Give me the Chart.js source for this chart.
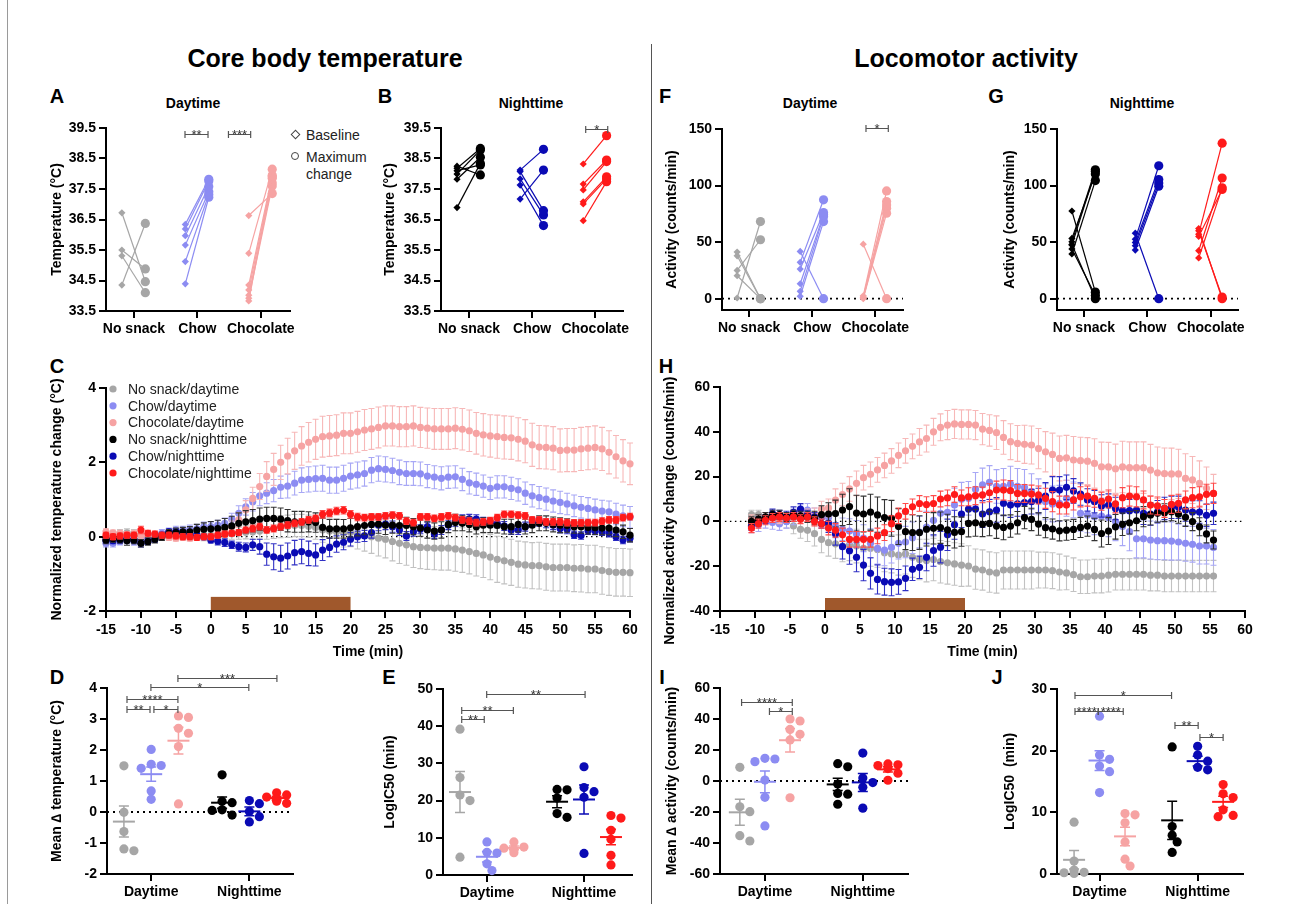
<!DOCTYPE html>
<html><head><meta charset="utf-8">
<script src="https://cdn.jsdelivr.net/npm/chart.js@4.4.1/dist/chart.umd.min.js"></script>
<style>
html,body{margin:0;padding:0;background:#fff;}
#fig{position:relative;width:1290px;height:904px;overflow:hidden;background:#fff;font-family:'Liberation Sans',Arial,Helvetica,sans-serif;color:#000;}
.t{position:absolute;white-space:nowrap;transform:translate(-50%,-50%);line-height:1;}
.big{font-size:25px;font-weight:bold;}
.let{font-size:20px;font-weight:bold;}
.sub{font-size:14px;font-weight:bold;}
.leg{position:absolute;white-space:nowrap;line-height:1;transform:translateY(-50%);font-size:14px;color:#222;}
canvas{position:absolute;}
</style></head><body><div id="fig"></div>
<script>
// ---------------- DATA ----------------
const catsTop = ['No snack', 'Chow', 'Chocolate'];
const catsPeriod = ['Daytime', 'Nighttime'];
const seriesNames = ['No snack/daytime','Chow/daytime','Chocolate/daytime','No snack/nighttime','Chow/nighttime','Chocolate/nighttime'];
const tempTicks = [33.5, 34.5, 35.5, 36.5, 37.5, 38.5, 39.5];
const actTicks = [0, 50, 100, 150];
const timeTicks = [-15,-10,-5,0,5,10,15,20,25,30,35,40,45,50,55,60];
const tempChangeTicks = [-2, 0, 2, 4];
const actChangeTicks = [-40, -20, 0, 20, 40, 60];
const meanTempTicks = [-2, -1, 0, 1, 2, 3, 4];
const ic50TempTicks = [0, 10, 20, 30, 40, 50];
const meanActTicks = [-60, -40, -20, 0, 20, 40, 60];
const ic50ActTicks = [0, 10, 20, 30];
const snackWindow = [0, 20];

// A: daytime temperature (baseline / maximum change), per group
const tempDayBase = [[36.72, 35.5, 35.31, 34.35], [36.34, 36.19, 35.97, 35.66, 35.12, 34.39], [36.63, 35.39, 34.35, 34.19, 34.02, 33.92, 33.83]];
const tempDayMax  = [[34.46, 34.88, 34.1, 36.37], [37.82, 37.76, 37.58, 37.41, 37.32, 37.23], [37.35, 38.15, 37.95, 37.85, 37.7, 37.6, 37.9]];
// B: nighttime temperature
const tempNightBase = [[38.25, 38.18, 37.99, 37.82, 36.89, 38.1], [38.12, 38.07, 37.83, 37.63, 37.17], [38.32, 37.66, 37.47, 37.08, 37.01, 36.46]];
const tempNightMax  = [[37.96, 38.83, 38.78, 38.54, 38.34, 38.29], [38.8, 36.79, 36.65, 36.3, 38.12], [39.25, 38.45, 38.4, 37.9, 37.83, 37.74]];
// F: daytime activity
const actDayBase = [[0.6, 25.0, 41.2, 37.9, 20.3], [32.1, 26.2, 13.2, 6.5, 2.1, 41.8], [2.5, 1.5, 1.0, 0.5, 0.0, 48.2]];
const actDayMax  = [[68.2, 52.1, 0, 0, 0], [87.4, 76.2, 74.1, 72.6, 68.2, 0], [95.3, 85.9, 82.9, 80.0, 75.6, 0]];
// G: nighttime activity
const actNightBase = [[77.5, 53.3, 50.3, 47.4, 44.0, 39.5, 48.0], [57.9, 52.6, 49.7, 46.8, 43.0], [36.0, 42.4, 57.0, 62.0, 60.0, 55.0]];
const actNightMax  = [[5.8, 110.2, 114.0, 112.5, 2.9, 104.4, 0], [0, 117.5, 105.3, 102.3, 99.4], [98.0, 106.7, 137.5, 0, 1.5, 96.5]];

// C: normalized temperature change (mean, SEM)
const timesC = [-15,-14,-13,-12,-11,-10,-9,-8,-7,-6,-5,-4,-3,-2,-1,0,1,2,3,4,5,6,7,8,9,10,11,12,13,14,15,16,17,18,19,20,21,22,23,24,25,26,27,28,29,30,31,32,33,34,35,36,37,38,39,40,41,42,43,44,45,46,47,48,49,50,51,52,53,54,55,56,57,58,59,60];
const noSnackDayC = [-0.13,-0.05,0.09,0.1,0.09,0.0,-0.04,0.0,0.0,0.04,0.09,0.09,0.0,0.04,0.0, 0.04,0.05,0.07,0.08,0.1,0.12,0.13,0.15,0.18,0.22,0.27,0.28,0.3,0.3,0.28,0.25, 0.18,0.15,0.13,0.09,0.11,0.07,0.03,0.0,-0.04,-0.07,-0.13,-0.18,-0.22,-0.27,-0.29,-0.30,-0.31,-0.31,-0.31,-0.33,-0.36,-0.40,-0.45,-0.49,-0.55,-0.61,-0.65,-0.69,-0.74,-0.76,-0.78,-0.78,-0.81,-0.83,-0.83,-0.83,-0.85,-0.85,-0.87,-0.87,-0.91,-0.94,-0.96,-0.96,-0.97];
const chowDayC = [-0.18,-0.18,-0.13,-0.09,-0.13,-0.09,-0.04,0.04,0.09,0.13,0.18,0.18,0.2,0.22,0.27, 0.27,0.31,0.36,0.47,0.63,0.8,0.94,1.1,1.17,1.24,1.33,1.36,1.44,1.52,1.54,1.56, 1.57,1.52,1.52,1.57,1.63,1.66,1.70,1.79,1.83,1.81,1.78,1.73,1.70,1.70,1.69,1.63,1.60,1.57,1.60,1.61,1.54,1.45,1.41,1.36,1.30,1.34,1.34,1.30,1.26,1.17,1.10,1.05,1.01,0.96,0.92,0.88,0.83,0.79,0.76,0.72,0.69,0.67,0.61,0.56,0.52];
const chocDayC = [0.13,0.1,0.09,0.06,0.07,0.04,0.02,0.0,0.0,-0.02,-0.04,-0.02,-0.04,0.0,0.0, -0.02,0.04,0.13,0.27,0.45,0.72,1.03,1.35,1.62,1.81,2.0,2.17,2.31,2.44,2.54,2.62, 2.69,2.71,2.73,2.78,2.78,2.82,2.87,2.90,2.94,2.98,2.98,2.96,2.96,2.98,2.94,2.92,2.90,2.90,2.90,2.92,2.89,2.85,2.78,2.74,2.71,2.69,2.67,2.66,2.62,2.57,2.47,2.41,2.40,2.38,2.32,2.33,2.33,2.36,2.38,2.40,2.36,2.27,2.15,2.04,1.96];
const noSnackNightC = [-0.09,-0.05,-0.07,-0.11,-0.09,-0.18,-0.13,-0.07,0.0,0.09,0.11,0.13,0.13,0.18,0.2, 0.21,0.22,0.25,0.29,0.36,0.4,0.43,0.47,0.49,0.49,0.47,0.43,0.4,0.4,0.4,0.38, 0.25,0.21,0.21,0.21,0.24,0.27,0.30,0.33,0.34,0.31,0.31,0.30,0.30,0.27,0.23,0.18,0.15,0.18,0.33,0.38,0.36,0.33,0.27,0.31,0.31,0.30,0.27,0.27,0.33,0.27,0.31,0.36,0.36,0.33,0.31,0.30,0.27,0.27,0.25,0.24,0.23,0.23,0.18,0.13,0.04];
const chowNightC = [-0.09,-0.11,-0.09,-0.04,-0.09,-0.18,-0.13,-0.07,0.04,0.13,0.13,0.09,0.07,0.04,0.0, -0.09,-0.12,-0.16,-0.22,-0.27,-0.29,-0.22,-0.27,-0.47,-0.54,-0.58,-0.52,-0.43,-0.40,-0.45,-0.49, -0.36,-0.29,-0.20,-0.15,-0.07,0.0,0.02,0.11,0.31,0.34,0.27,0.18,0.02,0.13,0.2,0.27,0.07,0.18,0.31,0.40,0.47,0.48,0.47,0.40,0.38,0.36,0.29,0.18,0.18,0.27,0.38,0.40,0.36,0.31,0.22,0.20,0.05,0.03,0.16,0.15,0.13,0.09,0.0,-0.09,-0.04];
const chocNightC = [0.04,0.0,0.02,0.04,0.04,0.18,0.09,0.07,0.04,0.04,0.02,0.0,0.0,-0.02,0.0, 0.0,0.04,0.07,0.09,0.11,0.18,0.22,0.27,0.18,0.22,0.27,0.31,0.36,0.4,0.45,0.49, 0.6,0.64,0.69,0.71,0.6,0.53,0.51,0.53,0.53,0.56,0.58,0.56,0.42,0.38,0.53,0.53,0.49,0.53,0.56,0.51,0.45,0.42,0.38,0.40,0.43,0.51,0.60,0.60,0.58,0.56,0.45,0.45,0.40,0.40,0.40,0.38,0.37,0.37,0.38,0.38,0.42,0.45,0.45,0.51,0.54];
const semNoSnackDayC = [0.12,0.1,0.1,0.11,0.1,0.1,0.09,0.1,0.08,0.08,0.09,0.1,0.1,0.1,0.11, 0.12,0.13,0.14,0.15,0.17,0.18,0.2,0.22,0.25,0.27,0.3,0.3,0.3,0.3,0.3,0.32, 0.33,0.35,0.36,0.37,0.38,0.4,0.42,0.45,0.48,0.5,0.52,0.54,0.55,0.56,0.57,0.58,0.58,0.59,0.59,0.6,0.6,0.6,0.61,0.61,0.61,0.62,0.62,0.62,0.62,0.62,0.62,0.63,0.63,0.63,0.63,0.63,0.63,0.64,0.64,0.64,0.64,0.64,0.64,0.64,0.64];
const semChowDayC = [0.1,0.1,0.09,0.1,0.1,0.08,0.08,0.09,0.1,0.1,0.1,0.1,0.11,0.11,0.12, 0.12,0.13,0.14,0.16,0.2,0.22,0.25,0.27,0.28,0.3,0.3,0.32,0.32,0.33,0.34,0.34, 0.35,0.35,0.35,0.35,0.35,0.35,0.34,0.34,0.34,0.34,0.33,0.33,0.32,0.32,0.32,0.31,0.31,0.31,0.3,0.3,0.3,0.3,0.3,0.3,0.3,0.3,0.3,0.3,0.3,0.3,0.3,0.3,0.3,0.3,0.3,0.29,0.29,0.29,0.29,0.29,0.29,0.29,0.29,0.29,0.29];
const semChocDayC = [0.08,0.08,0.08,0.08,0.1,0.1,0.08,0.08,0.08,0.08,0.08,0.08,0.08,0.08,0.08, 0.08,0.1,0.12,0.15,0.2,0.25,0.3,0.35,0.4,0.43,0.46,0.48,0.5,0.52,0.53,0.54, 0.55,0.55,0.55,0.55,0.55,0.55,0.55,0.55,0.55,0.54,0.54,0.54,0.54,0.54,0.54,0.54,0.55,0.55,0.55,0.55,0.56,0.56,0.56,0.57,0.57,0.58,0.58,0.58,0.58,0.58,0.58,0.58,0.58,0.58,0.58,0.58,0.58,0.58,0.58,0.58,0.58,0.58,0.57,0.57,0.56];
const semNoSnackNightC = [0.1,0.1,0.1,0.12,0.1,0.1,0.1,0.1,0.1,0.1,0.12,0.12,0.14,0.15,0.17, 0.2,0.22,0.24,0.26,0.28,0.3,0.3,0.3,0.3,0.3,0.3,0.3,0.28,0.28,0.27,0.26, 0.25,0.25,0.25,0.25,0.25,0.25,0.25,0.25,0.25,0.25,0.22,0.22,0.22,0.22,0.22,0.22,0.22,0.22,0.22,0.22,0.2,0.2,0.2,0.2,0.2,0.2,0.2,0.2,0.2,0.2,0.2,0.2,0.2,0.2,0.2,0.18,0.18,0.18,0.18,0.18,0.18,0.18,0.18,0.18,0.18];
const semChowNightC = [0.08,0.08,0.08,0.08,0.08,0.1,0.08,0.08,0.08,0.08,0.08,0.08,0.08,0.08,0.08, 0.08,0.1,0.1,0.1,0.12,0.12,0.15,0.2,0.3,0.35,0.35,0.35,0.33,0.33,0.33,0.3, 0.28,0.25,0.22,0.2,0.18,0.15,0.15,0.15,0.15,0.15,0.15,0.15,0.12,0.12,0.12,0.12,0.12,0.12,0.12,0.12,0.12,0.12,0.12,0.12,0.12,0.12,0.12,0.12,0.12,0.12,0.12,0.12,0.12,0.12,0.12,0.12,0.1,0.1,0.1,0.1,0.1,0.1,0.1,0.1,0.1];
const semChocNightC = [0.08,0.08,0.08,0.08,0.08,0.1,0.08,0.08,0.08,0.08,0.08,0.08,0.08,0.08,0.08, 0.08,0.08,0.08,0.08,0.08,0.08,0.09,0.09,0.09,0.09,0.09,0.09,0.09,0.09,0.09,0.09, 0.1,0.1,0.1,0.1,0.1,0.1,0.09,0.09,0.09,0.09,0.09,0.09,0.09,0.09,0.09,0.09,0.09,0.09,0.09,0.09,0.09,0.09,0.09,0.09,0.09,0.09,0.09,0.09,0.09,0.09,0.09,0.09,0.09,0.09,0.09,0.09,0.09,0.09,0.09,0.09,0.09,0.09,0.09,0.09,0.09];

// H: normalized activity change (mean, SEM)
const timesH = [-10.5,-9.5,-8.5,-7.5,-6.5,-5.5,-4.5,-3.5,-2.5,-1.5,-0.5,0.5,1.5,2.5,3.5,4.5,5.5,6.5,7.5,8.5,9.5,10.5,11.5,12.5,13.5,14.5,15.5,16.5,17.5,18.5,19.5,20.5,21.5,22.5,23.5,24.5,25.5,26.5,27.5,28.5,29.5,30.5,31.5,32.5,33.5,34.5,35.5,36.5,37.5,38.5,39.5,40.5,41.5,42.5,43.5,44.5,45.5,46.5,47.5,48.5,49.5,50.5,51.5,52.5,53.5,54.5,55.5];
const noSnackDayH = [3,3,2,1.5,1,0,-2,-3.5,-4,-5.5,-8, -9.5,-10,-11,-10.5,-11,-12,-12,-12.5,-14,-14.5,-15,-14.5,-16,-17,-17.5,-17,-18,-18.5,-19,-19.5, -19.9,-21.3,-21.7,-22.6,-23.0,-21.7,-21.7,-21.7,-21.7,-21.7,-21.7,-21.7,-22.0,-22.6,-23.0,-23.8,-24.7,-24.7,-24.4,-24.4,-24.0,-23.6,-23.6,-23.6,-23.6,-23.6,-24.0,-24.0,-24.4,-24.4,-24.4,-24.4,-24.4,-24.4,-24.4,-24.4];
const chowDayH = [-2,-1.5,0,-0.5,-1,0,2,4,5,3,2, 1.7,-2.3,-3.5,-4.3,-5.6,-7.5,-9.8,-12,-12.8,-11.6,-9.8,-9.2,-7.3,-4.8,-2.5,0.5,3.6,4,7.3,9.9, 10.3,14.3,16.3,17.4,15.6,15.6,16.6,15.6,15.2,13.3,11.0,8.8,7.8,8.1,10.3,9.6,3.6,2.9,2.1,2.4,1.7,-0.1,-2.3,-4.6,-7.8,-7.8,-8.3,-8.6,-8.6,-8.8,-9.2,-9.8,-10.2,-11.0,-11.0,-11.6];
const chocDayH = [1,1,2,2,1,2,3,3,2.5,3,5.5, 6,9.5,12,14.5,17,19.5,21,23,25,27,29.5,31.5,33.5,35.5,37,40,42,43,43.5,43.3, 43.3,43.0,41.2,40.6,39.6,37.5,35.6,34.8,34.4,34.1,32.5,31.1,29.9,28.1,28.4,27.4,27.1,26.9,25.9,24.4,24.3,23.5,24.3,24.0,24.0,24.0,22.9,21.7,21.3,21.2,21.2,19.2,18.5,17.0,14.8,12.5];
const noSnackNightH = [0,1,2,3,3,2,3,2.5,2,1.5,3, 3.3,3.5,5.1,6.6,3.7,3.3,4.1,2.9,1.7,1.4,-2.3,-4.6,-5.0,-5.0,-3.5,-3.1,-2.8,-3.8,-4.9,-4.6, -0.9,-0.6,-1.3,-0.9,-2.1,-2.7,-2.1,-0.6,1.7,0.9,-1.2,-2.8,-3.4,-4.2,-3.9,-3.6,-2.7,-2.1,-3.6,-5.4,-4.3,-2.4,-1.3,-0.6,0.3,2.1,2.9,3.6,3.9,4.3,3.2,1.8,-0.1,-2.4,-5.6,-8.3];
const chowNightH = [-2,0,1,3.5,3,2.5,4,5.5,3,2,-1, -0.9,-5.6,-11.3,-13.1,-16,-19.5,-23.2,-25.9,-26.9,-27.2,-27,-25.4,-21.4,-20.5,-16,-13,-11.5,-6,-1.5,3.3, 5.5,5.5,3.3,4.3,5.1,8.1,7.3,7.8,8.4,8.8,9.3,11.3,14.0,14.0,15.2,13.6,12.2,9.6,8.8,6.9,7.3,5.8,4.8,4.8,5.1,3.6,3.3,4.3,5.8,6.3,6.3,5.1,4.2,4.2,2.7,3.6];
const chocNightH = [-3,-1,0.5,1.5,2,1.5,2,1,2,0,-1, -3,-4,-6,-8,-8,-8,-8,-6.5,-5,-1,2.5,4.5,6.5,8,7.5,8,10,10.5,12,10.5, 11.0,11.5,11.8,12.8,14.0,14.0,13.7,12.5,12.5,12.2,11.8,10.3,8.8,7.3,7.3,9.6,11.0,11.3,10.3,9.0,10.0,7.8,10.6,11.3,11.0,9.6,7.3,6.9,5.8,7.6,8.1,9.6,10.6,11.0,12.1,12.5];
const semNoSnackDayH = [2,2,2,2,2.5,3,3.5,4,5,5.5,6, 6,6.5,7,7,7.5,7.5,8,8,8.5,8.5,9,9,9,9,9.5,9.5,9.5,9.5,9.5,9.5, 9,9,9,9,9,8.5,8.5,8.5,8.5,8.5,8,8,8,8,7.5,7.5,7.5,7.5,7.5,7.5,7.5,7,7,7,7,7,7,7,7,7,7,7,7,7,7,7];
const semChowDayH = [3,3,3,3,3,3,3.5,3.5,3,3,3.5, 4,5,5,5.5,6,6,6.5,7,7,7,7,7,7,7,7,7,7,7.5,7.5,7.5, 7.5,7.5,7.5,7.5,7.5,8,8,8,8,8,8,8,8,8,8,8,8,8,8,8,8.5,8.5,8.5,8.5,8.5,8.5,8.5,8.5,8.5,8.5,8,8,8,8,8,8];
const semChocDayH = [2,2,2,2,2,2,2,2.5,3,3,3.5, 4,5,5,5.5,5.5,5.5,5.5,5.5,5.5,5.5,5.5,5.5,5.5,6,6,6,6,6.5,6.5,6.5, 6.5,6.5,7,7,7.5,7.5,8,8,8.5,8.5,9,9,9.5,10,10,10.5,10.5,10.5,11,11,11,11,11.5,11.5,11.5,11.5,11.5,11.5,11.5,11.5,11,11,10.5,10,9.5,8.5];
const semNoSnackNightH = [2,2,2,2,2,2,2,2,2.5,3,4, 5,6,7,8,8,8,8,8,8,8,8,8,8,7.5,7.5,7,7,7,7,6.5, 6,6,5.5,5.5,5.5,5.5,5,5,5,5,5,4.5,4.5,4.5,4.5,4.5,4.5,4.5,5,6,6,5.5,5,5,4.5,4.5,4.5,4,4,4,4,4,4,4,4,4];
const semChowNightH = [2,2,2,2,2,2,2.5,2.5,2,2,2, 4,5,5.5,6,6.5,7,7,6.5,6,6,5.5,5.5,5,5,6,7,7,7,6.5,6, 6,6,6,5.5,5.5,5.5,5.5,5.5,5.5,5.5,5.5,6,6,6,5.5,5.5,5,5,5,5,5,5,5,5,5,5,5,5,5,5,5,5,5,5,5,5];
const semChocNightH = [2,2,2,2,2,2,2,2,2,2,2, 3,3,3,3.5,3.5,3.5,3.5,3.5,3.5,3.5,3.5,3.5,3.5,3.5,3.5,3.5,3.5,3.5,3.5,3.5, 4,4,3.5,4,4,4.5,4.5,4,4,4,4,4.5,4.5,4,4,4.5,4.5,4.5,4,4,4,4,4.5,4.5,4.5,4,4,4,4,4,4,4,4.5,4.5,4.5,4.5];

// D: mean delta temperature; E: temperature LogIC50; I: mean delta activity; J: activity LogIC50
// group order: No snack/day, Chow/day, Chocolate/day, No snack/night, Chow/night, Chocolate/night
const meanTempVals = [[1.49, -0.01, -0.63, -1.19, -1.25], [2.02, 1.54, 1.5, 1.41, 0.68, 0.41], [3.1, 3.05, 2.7, 2.54, 2.11, 0.26], [1.2, 0.35, 0.3, 0.07, 0.05, -0.1], [0.37, 0.27, 0.02, -0.15, -0.32], [0.62, 0.55, 0.48, 0.42, 0.35, 0.28]];
const meanTempMean = [-0.31, 1.22, 2.3, 0.3, 0.02, 0.45];
const meanTempSem = [0.5, 0.23, 0.43, 0.18, 0.14, 0.06];
const ic50TempVals = [[39.2, 26.2, 21.5, 20.0, 4.8], [8.9, 6.1, 5.9, 3.0, 1.2], [8.9, 7.5, 7.2, 6.8, 6.0], [23.0, 22.9, 20.7, 16.5, 15.5], [29.1, 23.5, 22.4, 20.9, 5.8], [16.0, 15.3, 12.0, 9.6, 5.3, 2.7]];
const ic50TempMean = [22.3, 4.9, 7.3, 19.7, 20.3, 10.2];
const ic50TempSem = [5.5, 1.4, 0.5, 1.6, 3.9, 2.1];
const meanActVals = [[8.8, -16.6, -19.8, -35.3, -38.7], [14.6, 14.2, 12.5, 0.6, -10.5, -29.0], [40.0, 38.7, 33.3, 30.1, 26.5, -10.8], [11.2, 9.2, -2.0, -8.0, -8.5, -15.0], [18.0, 2.0, -1.0, -4.0, -17.5], [11.0, 10.5, 10.0, 8.0, 5.0, 0.5]];
const meanActMean = [-20.2, -0.5, 26.3, -2.2, -0.9, 7.5];
const meanActSem = [8.4, 7.0, 7.6, 4.0, 5.8, 1.7];
const ic50ActVals = [[8.4, 2.1, 0.65, 0.27, 0.2, 0.1], [25.6, 19.3, 18.6, 17.5, 16.6, 13.2], [9.8, 9.6, 8.3, 5.2, 2.4, 1.3], [20.6, 7.7, 6.3, 5.2, 3.5], [20.7, 19.3, 18.3, 17.3, 16.9], [14.5, 13.0, 12.4, 10.4, 9.5, 9.3]];
const ic50ActMean = [2.3, 18.4, 6.1, 8.7, 18.3, 11.7];
const ic50ActSem = [1.5, 1.6, 1.5, 3.1, 0.8, 0.9];

// significance brackets [from, to, height, label]
const sigA = [[1.805, 2.168, 39.29, '**'], [2.49, 2.84, 39.29, '***']];
const sigB = [[2.849, 3.198, 39.48, '*']];
const sigF = [[2.853, 3.207, 151, '*']];
const sigD = [[1.113, 1.957, 3.32, '**'], [2.1, 2.98, 3.32, '*'], [1.113, 2.98, 3.65, '****'], [1.99, 5.58, 4.03, '*'], [2.98, 6.61, 4.32, '***']];
const sigE = [[1.064, 1.90, 41.9, '**'], [1.064, 2.98, 44.4, '**'], [1.99, 5.64, 48.7, '**']];
const sigI = [[1.07, 3.09, 50.8, '****'], [2.18, 3.09, 45.2, '*']];
const sigJ = [[1.036, 4.826, 29.1, '*'], [1.036, 1.95, 26.5, '****'], [1.95, 2.93, 26.5, '****'], [4.96, 5.87, 24.1, '**'], [5.94, 6.85, 22.2, '*']];

// ---------------- STYLE / LAYOUT ----------------
const FONT = "'Liberation Sans', Arial, Helvetica, sans-serif";
const COL = ['#a6a6a6', '#8c8cf2', '#f6a3a3', '#000000', '#0a0ab4', '#ff1a1a'];
const ERRCOL = ['#c2c2c2', '#a8a8f5', '#f7b8b8', '#333333', '#3030c4', '#ff4a4a'];
const DRAW_ORDER = [6, 5, 4, 2, 3, 1];
const fig = document.getElementById('fig');

function text(str, x, y, cls) {
  const d = document.createElement('div'); d.className = 't ' + cls; d.textContent = str;
  d.style.left = x + 'px'; d.style.top = y + 'px'; fig.appendChild(d); return d;
}
function line(x, y, w, h, c) {
  const d = document.createElement('div'); d.style.cssText = `position:absolute;left:${x}px;top:${y}px;width:${w}px;height:${h}px;background:${c}`; fig.appendChild(d);
}

function axis(o) {
  return {
    type: 'linear', position: o.position, min: o.min, max: o.max, bounds: 'data',
    border: {display: true, color: '#000', width: 2},
    grid: {display: true, drawOnChartArea: false, drawTicks: true, tickLength: 7, tickWidth: 2, tickColor: '#000', color: '#000', lineWidth: 2},
    ticks: {color: '#000', padding: o.pad == null ? 3 : o.pad, autoSkip: false, maxRotation: 0, minRotation: 0,
      font: {family: FONT, size: 14, weight: 'bold'}, callback: o.cb || (v => String(v))},
    title: o.title ? {display: true, text: o.title, color: '#000', padding: 0, font: {family: FONT, size: 14, weight: 'bold'}} : {display: false},
    afterBuildTicks: s => { s.ticks = o.ticks.map(v => ({value: v})); }
  };
}

function annot(spec) {
  return {
    id: 'annot',
    beforeDatasetsDraw(chart) {
      const {ctx, scales: {x, y}} = chart;
      ctx.save();
      if (spec.bar) {
        const px0 = x.getPixelForValue(spec.bar[0]), px1 = x.getPixelForValue(spec.bar[1]);
        const py0 = y.getPixelForValue(spec.bar[2]) - 1, py1 = y.getPixelForValue(spec.bar[3]);
        ctx.fillStyle = '#a0582c'; ctx.fillRect(px0, py1, px1 - px0, py0 - py1);
      }
      if (spec.zero) {
        const py = y.getPixelForValue(0);
        ctx.strokeStyle = '#000'; ctx.lineWidth = spec.zeroW || 1.8; ctx.setLineDash(spec.dash || [2, 4]);
        ctx.beginPath(); ctx.moveTo(x.getPixelForValue(spec.zero[0]), py); ctx.lineTo(x.getPixelForValue(spec.zero[1]), py); ctx.stroke();
      }
      ctx.restore();
    },
    beforeDatasetDraw(chart, args) {
      const ds = chart.data.datasets[args.index];
      if (!ds.sem) return;
      const {ctx, scales: {x, y}} = chart;
      ctx.save(); ctx.strokeStyle = ds.semColor; ctx.lineWidth = 1.1;
      ds.data.forEach((p, i) => {
        const e = ds.sem[i], px = x.getPixelForValue(p.x);
        const y1 = y.getPixelForValue(p.y + e), y2 = y.getPixelForValue(p.y - e);
        ctx.beginPath(); ctx.moveTo(px, y1); ctx.lineTo(px, y2);
        ctx.moveTo(px - 3, y1); ctx.lineTo(px + 3, y1); ctx.moveTo(px - 3, y2); ctx.lineTo(px + 3, y2); ctx.stroke();
      });
      ctx.restore();
    },
    afterDatasetsDraw(chart) {
      if (!spec.summary) return;
      const {ctx, scales: {x, y}} = chart;
      ctx.save();
      spec.summary.forEach(sm => {
        const px = x.getPixelForValue(sm.x), pm = y.getPixelForValue(sm.m);
        const p1 = y.getPixelForValue(sm.m + sm.s), p2 = y.getPixelForValue(sm.m - sm.s);
        ctx.strokeStyle = sm.c; ctx.lineWidth = 2;
        ctx.beginPath(); ctx.moveTo(px - 11, pm); ctx.lineTo(px + 11, pm); ctx.stroke();
        ctx.lineWidth = 1.5;
        ctx.beginPath(); ctx.moveTo(px, p1); ctx.lineTo(px, p2);
        ctx.moveTo(px - 5, p1); ctx.lineTo(px + 5, p1); ctx.moveTo(px - 5, p2); ctx.lineTo(px + 5, p2); ctx.stroke();
      });
      ctx.restore();
    },
    afterDraw(chart) {
      const {ctx, chartArea: ca, scales: {x, y}} = chart;
      ctx.save();
      (spec.brackets || []).forEach(([a, b, h, lab]) => {
        const px0 = x.getPixelForValue(a), px1 = x.getPixelForValue(b), py = Math.round(y.getPixelForValue(h)) + 0.5;
        ctx.strokeStyle = '#555'; ctx.lineWidth = 1.2;
        ctx.beginPath(); ctx.moveTo(px0, py); ctx.lineTo(px1, py);
        ctx.moveTo(px0, py - 3.5); ctx.lineTo(px0, py + 3.5); ctx.moveTo(px1, py - 3.5); ctx.lineTo(px1, py + 3.5); ctx.stroke();
        ctx.fillStyle = '#333'; ctx.font = '13px ' + FONT; ctx.textAlign = 'center'; ctx.textBaseline = 'alphabetic';
        ctx.fillText(lab, (px0 + px1) / 2, py + 4.5);
      });
      if (spec.legend) {
        ctx.font = '14px ' + FONT; ctx.textAlign = 'left'; ctx.textBaseline = 'middle';
        spec.legend.forEach((nm, i) => {
          const cy = ca.top + 1 + i * 16.8;
          ctx.fillStyle = COL[i]; ctx.beginPath(); ctx.arc(ca.left + 7, cy, 3.6, 0, Math.PI * 2); ctx.fill();
          ctx.fillStyle = '#222'; ctx.fillText(nm, ca.left + 22, cy + 1);
        });
      }
      ctx.restore();
    }
  };
}

function makeChart(box, plot, xAxis, yAxis, datasets, spec) {
  const cv = document.createElement('canvas');
  cv.width = box.w; cv.height = box.h;
  cv.style.left = box.l + 'px'; cv.style.top = box.t + 'px'; cv.style.width = box.w + 'px'; cv.style.height = box.h + 'px';
  fig.appendChild(cv);
  const yW = plot.l - box.l, xH = box.t + box.h - plot.b;
  xAxis.afterFit = s => { s.height = xH; s.paddingLeft = 0; s.paddingRight = 0; s.paddingTop = 0; s.paddingBottom = 0; };
  yAxis.afterFit = s => { s.width = yW; s.paddingTop = 0; s.paddingBottom = 0; s.paddingLeft = 0; s.paddingRight = 0; };
  return new Chart(cv, {
    type: 'scatter',
    data: {datasets},
    options: {
      responsive: false, maintainAspectRatio: false, animation: false, devicePixelRatio: 1, events: [],
      layout: {autoPadding: false, padding: {left: 0, top: plot.t - box.t, right: box.l + box.w - plot.r, bottom: 0}},
      plugins: {legend: {display: false}, tooltip: {enabled: false}},
      scales: {x: xAxis, y: yAxis}
    },
    plugins: [annot(spec)]
  });
}

// paired baseline/max datasets
const OFF_B = -0.19, OFF_M = 0.18;
function pairSets(base, max, cols) {
  const sets = [];
  base.forEach((grp, g) => grp.forEach((b, i) => sets.push({
    data: [{x: g + 1 + OFF_B, y: b}, {x: g + 1 + OFF_M, y: max[g][i]}],
    showLine: true, borderColor: cols[g], borderWidth: 1.2, backgroundColor: cols[g],
    pointBackgroundColor: cols[g], pointBorderColor: cols[g], pointBorderWidth: 0,
    pointStyle: ['rectRot', 'circle'], pointRadius: [3.6, 4.6], clip: false
  })));
  return sets;
}
function catAxis(min, max) {
  return axis({position: 'bottom', min, max, ticks: [1, 2, 3], cb: v => catsTop[Math.round(v) - 1]});
}

// time series datasets
function timeSets(times, series, sems) {
  return series.map((vals, k) => ({
    label: seriesNames[k], data: vals.map((v, i) => ({x: times[i], y: v})),
    sem: sems[k], semColor: ERRCOL[k], backgroundColor: COL[k], pointBackgroundColor: COL[k],
    pointBorderWidth: 0, pointRadius: 3.6, order: DRAW_ORDER[k], clip: false
  }));
}

// dot plot datasets (simple beeswarm spread in pixel space)
function swarm(vals, gx, kx, ky) {
  const placed = [], r = 4.6;
  return vals.map(v => {
    const py = v * ky;
    for (const c of [0, 1, -1, 2, -2, 3, -3]) {
      const px = c * 5;
      if (placed.every(p => Math.hypot(p[0] - px, p[1] - py) >= 2 * r * 0.88)) { placed.push([px, py]); return {x: gx + px / kx, y: v}; }
    }
    placed.push([0, py]); return {x: gx, y: v};
  });
}
function dotSets(vals, pos, kx, ky) {
  return vals.map((g, k) => ({
    data: swarm(g, pos[k], kx, ky), backgroundColor: COL[k], pointBackgroundColor: COL[k],
    pointBorderWidth: 0, pointRadius: 4.6, clip: false
  }));
}
function summary(pos, mean, sem) { return pos.map((p, k) => ({x: p, m: mean[k], s: sem[k], c: COL[k]})); }

// ---------------- FIGURE TEXT ----------------
line(7, 0, 1, 904, '#9a9a9a');
line(651, 44, 1, 860, '#555');
text('Core body temperature', 325, 58, 'big');
text('Locomotor activity', 966, 58, 'big');
[['A', 57, 96], ['B', 385, 96], ['F', 665, 96], ['G', 996, 96], ['C', 57, 366], ['H', 666, 366], ['D', 57, 677], ['E', 389, 677], ['I', 662, 677], ['J', 997, 677]]
  .forEach(([s, x, y]) => text(s, x, y, 'let'));
text('Daytime', 193, 103, 'sub'); text('Nighttime', 531, 103, 'sub');
text('Daytime', 810, 103, 'sub'); text('Nighttime', 1142, 103, 'sub');
// legend of panel A
(function () {
  const dm = document.createElement('div');
  dm.style.cssText = 'position:absolute;left:292px;top:131px;width:5px;height:5px;border:1px solid #444;transform:rotate(45deg);';
  fig.appendChild(dm);
  const cm = document.createElement('div');
  cm.style.cssText = 'position:absolute;left:291px;top:152px;width:6px;height:6px;border:1px solid #444;border-radius:50%;';
  fig.appendChild(cm);
  [['Baseline', 135], ['Maximum', 157], ['change', 174]].forEach(([s, y]) => {
    const d = document.createElement('div'); d.className = 'leg'; d.textContent = s; d.style.left = '306px'; d.style.top = y + 'px'; fig.appendChild(d);
  });
})();

// ---------------- CHARTS ----------------
const fmt1 = v => v.toFixed(1);
// A
makeChart({l: 49, t: 100, w: 251, h: 241}, {l: 106, t: 128, r: 290, b: 311},
  catAxis(0.56, 3.46),
  axis({position: 'left', min: 33.5, max: 39.5, ticks: tempTicks, cb: fmt1, title: 'Temperature (°C)'}),
  pairSets(tempDayBase, tempDayMax, [COL[0], COL[1], COL[2]]), {brackets: sigA});
// B
makeChart({l: 382, t: 100, w: 250, h: 241}, {l: 441, t: 128, r: 623, b: 311},
  catAxis(0.556, 3.44),
  axis({position: 'left', min: 33.5, max: 39.5, ticks: tempTicks, cb: fmt1, title: 'Temperature (°C)'}),
  pairSets(tempNightBase, tempNightMax, [COL[3], COL[4], COL[5]]), {brackets: sigB});
// F
makeChart({l: 664, t: 100, w: 250, h: 241}, {l: 722, t: 129, r: 903, b: 310},
  catAxis(0.57, 3.44),
  axis({position: 'left', min: -10, max: 150, ticks: actTicks, title: 'Activity (counts/min)'}),
  pairSets(actDayBase, actDayMax, [COL[0], COL[1], COL[2]]), {brackets: sigF, zero: [0.57, 3.44]});
// G
makeChart({l: 1002, t: 100, w: 246, h: 241}, {l: 1057, t: 129, r: 1238, b: 310},
  catAxis(0.575, 3.43),
  axis({position: 'left', min: -10, max: 150, ticks: actTicks, title: 'Activity (counts/min)'}),
  pairSets(actNightBase, actNightMax, [COL[3], COL[4], COL[5]]), {zero: [0.575, 3.43]});
// C
(function () {
  const xa = axis({position: 'bottom', min: -15, max: 60, ticks: timeTicks, pad: 4, title: 'Time (min)'});
  makeChart({l: 49, t: 345, w: 591, h: 316}, {l: 106, t: 388, r: 630, b: 611}, xa,
    axis({position: 'left', min: -2, max: 4, ticks: tempChangeTicks, title: 'Normalized temperature change (°C)'}),
    timeSets(timesC, [noSnackDayC, chowDayC, chocDayC, noSnackNightC, chowNightC, chocNightC],
      [semNoSnackDayC, semChowDayC, semChocDayC, semNoSnackNightC, semChowNightC, semChocNightC]),
    {bar: [snackWindow[0], snackWindow[1], -2, -1.62], zero: [-15, 60], zeroW: 1.4, dash: [1.5, 3.5], legend: seriesNames});
})();
// H
(function () {
  const xa = axis({position: 'bottom', min: -15, max: 60, ticks: timeTicks, pad: 4, title: 'Time (min)'});
  // trailing spaces shift the centred, rotated title slightly downwards, as in the original
  makeChart({l: 662, t: 345, w: 593, h: 316}, {l: 720, t: 387, r: 1245, b: 611}, xa,
    axis({position: 'left', min: -40, max: 60, ticks: actChangeTicks, title: 'Normalized activity change (counts/min)\u00a0\u00a0\u00a0\u00a0\u00a0\u00a0'}),
    timeSets(timesH, [noSnackDayH, chowDayH, chocDayH, noSnackNightH, chowNightH, chocNightH],
      [semNoSnackDayH, semChowDayH, semChocDayH, semNoSnackNightH, semChowNightH, semChocNightH]),
    {bar: [snackWindow[0], snackWindow[1], -40, -34.2], zero: [-14.3, 59.7], zeroW: 1.4, dash: [1.5, 3.5]});
})();
// D
(function () {
  const pos = [1, 2, 3, 4.6, 5.6, 6.6], kx = 186 / 6.82, ky = 31;
  makeChart({l: 49, t: 660, w: 254, h: 244}, {l: 107, t: 688, r: 293, b: 874},
    axis({position: 'bottom', min: 0.38, max: 7.2, ticks: [2, 5.6], cb: (v, i) => catsPeriod[i]}),
    axis({position: 'left', min: -2, max: 4, ticks: meanTempTicks, title: 'Mean \u2206 temperature (°C)'}),
    dotSets(meanTempVals, pos, kx, ky),
    {zero: [0.38, 7.2], summary: summary(pos, meanTempMean, meanTempSem), brackets: sigD});
})();
// E
(function () {
  const pos = [1, 2, 3, 4.6, 5.6, 6.6], kx = 189 / 7.01, ky = 3.72;
  makeChart({l: 382, t: 660, w: 260, h: 244}, {l: 443, t: 689, r: 632, b: 875},
    axis({position: 'bottom', min: 0.37, max: 7.38, ticks: [2, 5.6], cb: (v, i) => catsPeriod[i]}),
    axis({position: 'left', min: 0, max: 50, ticks: ic50TempTicks, title: 'LogIC50 (min)'}),
    dotSets(ic50TempVals, pos, kx, ky),
    {zero: [0.37, 7.38], summary: summary(pos, ic50TempMean, ic50TempSem), brackets: sigE});
})();
// I
(function () {
  const pos = [1, 2, 3, 4.9, 5.9, 6.9], kx = 188 / 7.49, ky = 1.55;
  makeChart({l: 664, t: 660, w: 254, h: 244}, {l: 720, t: 688, r: 908, b: 874},
    axis({position: 'bottom', min: 0.21, max: 7.7, ticks: [2, 5.9], cb: (v, i) => catsPeriod[i]}),
    axis({position: 'left', min: -60, max: 60, ticks: meanActTicks, title: 'Mean \u2206 activity (counts/min)'}),
    dotSets(meanActVals, pos, kx, ky),
    {zero: [0.21, 7.7], summary: summary(pos, meanActMean, meanActSem), brackets: sigI});
})();
// J
(function () {
  const pos = [1, 2, 3, 4.85, 5.85, 6.85], kx = 186 / 7.3, ky = 6.17;
  makeChart({l: 1002, t: 660, w: 251, h: 244}, {l: 1057, t: 689, r: 1243, b: 874},
    axis({position: 'bottom', min: 0.33, max: 7.63, ticks: [2, 5.85], cb: (v, i) => catsPeriod[i]}),
    axis({position: 'left', min: 0, max: 30, ticks: ic50ActTicks, title: 'LogIC50  (min)'}),
    dotSets(ic50ActVals, pos, kx, ky),
    {summary: summary(pos, ic50ActMean, ic50ActSem), brackets: sigJ});
})();
</script></body></html>
